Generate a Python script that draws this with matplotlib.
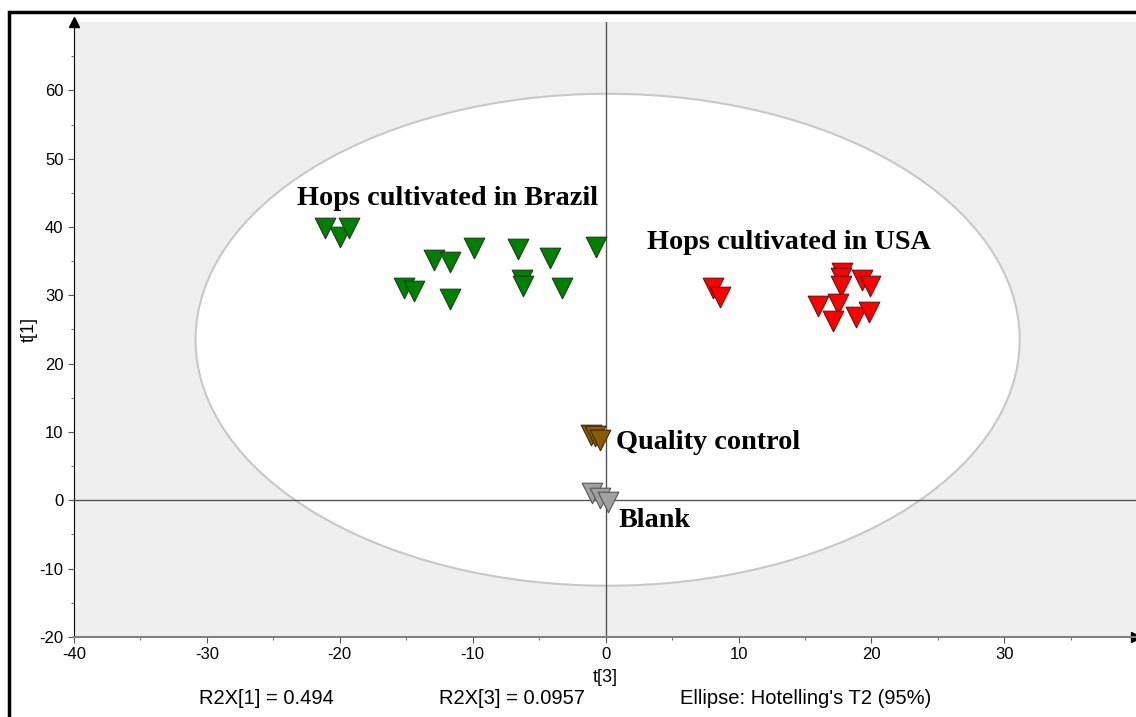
import matplotlib.pyplot as plt
import matplotlib.patches as mpatches
import numpy

plt.rcParams['axes.unicode_minus'] = False

# scores t[3] (x) and t[1] (y) per group
brazil_x = [-21.1, -20.0, -19.3, -12.9, -11.7, -9.9, -6.6, -4.2, -0.7,
            -15.2, -14.4, -11.7, -6.3, -6.2, -3.3]
brazil_y = [39.9, 38.5, 39.8, 35.2, 34.9, 37.0, 36.8, 35.5, 37.1,
            31.1, 30.6, 29.5, 32.3, 31.4, 31.1]
usa_x = [8.1, 8.6, 17.8, 17.7, 17.7, 19.3, 19.9, 16.0, 17.5, 17.1, 18.8, 19.8]
usa_y = [31.1, 29.7, 33.3, 32.6, 31.3, 32.2, 31.4, 28.4, 28.8, 26.2, 26.8, 27.6]
qc_x = [-1.1, -0.8, -0.4]
qc_y = [9.6, 9.4, 8.9]
blank_x = [-1.0, -0.45, 0.15]
blank_y = [1.0, 0.4, -0.3]

# Hotelling's T2 ellipse
ell_center = (0.15, 23.5)
ell_width = 62.0
ell_height = 72.0

fig = plt.figure(figsize=(11.36, 7.17), dpi=100)
ax = fig.add_axes([0.0651, 0.1116, 0.9349, 0.8577])
ax.set_xlim(-40, 39.9)
ax.set_ylim(-20, 70)
ax.set_facecolor('#efefef')

ax.add_patch(mpatches.Ellipse(ell_center, ell_width, ell_height,
                              facecolor='white', edgecolor='#c8c8c8', lw=1.5, zorder=1))
ax.axvline(0, color='#555555', lw=1, zorder=2)
ax.axhline(0, color='#555555', lw=1, zorder=2)

mk = dict(marker='v', s=220, linewidths=0.8, zorder=3)
ax.scatter(brazil_x, brazil_y, color='#008000', edgecolors='#1e3d1e', **mk)
ax.scatter(usa_x, usa_y, color='#ff0000', edgecolors='#6a1010', **mk)
ax.scatter(qc_x, qc_y, color='#8c5a00', edgecolors='#3d2a10', **mk)
ax.scatter(blank_x, blank_y, color='#a0a0a0', edgecolors='#555555', **mk)

lbl = dict(family='Liberation Serif', fontweight='bold', fontsize=20.3, va='center')
ax.text(-23.2, 44.2, 'Hops cultivated in Brazil', **lbl)
ax.text(3.1, 37.8, 'Hops cultivated in USA', **lbl)
ax.text(0.8, 8.5, 'Quality control', **lbl)
ax.text(0.95, -3.0, 'Blank', **lbl)

# axes styling
for s in ['top', 'right']:
    ax.spines[s].set_visible(False)
ax.spines['left'].set_color('black')
ax.spines['bottom'].set_color('#808080')
ax.spines['bottom'].set_linewidth(1.5)
ax.set_xticks(numpy.arange(-40, 31, 10))
ax.set_yticks(numpy.arange(-20, 61, 10))
ax.set_xticks(numpy.arange(-35, 40, 5), minor=True)
ax.set_yticks(numpy.arange(-15, 70, 5), minor=True)
ax.tick_params(labelsize=12, length=4, color='#555555', labelfontfamily='Liberation Sans')
ax.tick_params(which='minor', length=2, color='#555555')
ax.set_xlabel('t[3]', family='Liberation Sans', fontsize=13, labelpad=5)
ax.set_ylabel('t[1]', family='Liberation Sans', fontsize=13, labelpad=1)

# axis arrows
ax.plot(0, 1, '^', color='black', ms=7, transform=ax.transAxes, clip_on=False)
ax.plot(1, 0, '>', color='black', ms=7, transform=ax.transAxes, clip_on=False)

# footer text
ft = dict(family='Liberation Sans', fontsize=14.5, va='center')
fig.text(266 / 1136, 1 - 699 / 717, 'R2X[1] = 0.494', ha='center', **ft)
fig.text(512 / 1136, 1 - 699 / 717, 'R2X[3] = 0.0957', ha='center', **ft)
fig.text(680 / 1136, 1 - 699 / 717, "Ellipse: Hotelling's T2 (95%)", ha='left', **ft)

# outer frame
fig.patches.append(mpatches.Rectangle((9 / 1136, -0.1), 1.2, 1 - 12 / 717 + 0.1,
                                      transform=fig.transFigure, fill=False,
                                      edgecolor='black', lw=2.5))

fig.savefig('out.png', dpi=100)
